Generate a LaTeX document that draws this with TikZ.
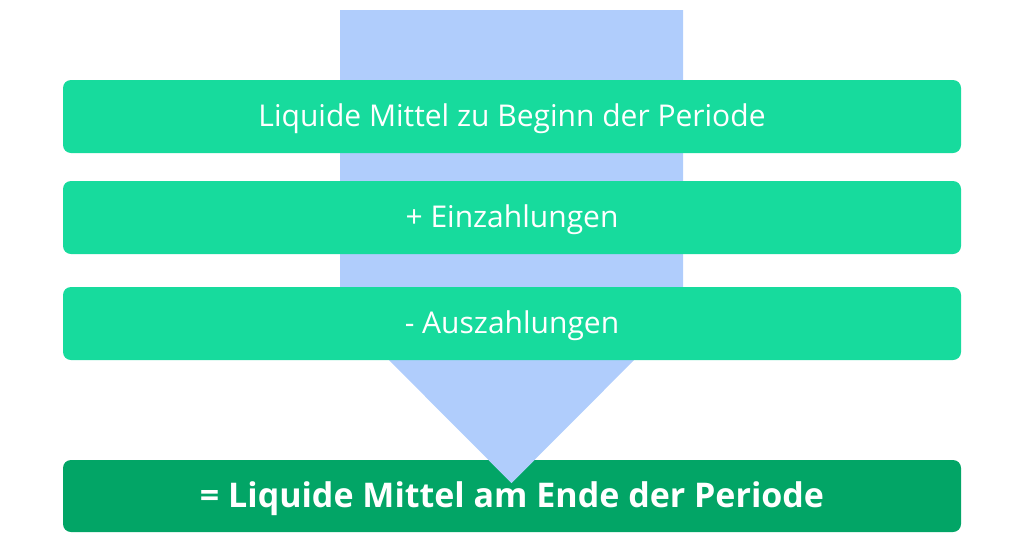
\documentclass[tikz,border=0pt]{standalone}
\usepackage{fontspec}
\setmainfont{Open Sans}
\definecolor{lightgreen}{HTML}{17DB9D}
\definecolor{darkgreen}{HTML}{02A566}
\definecolor{arrowblue}{HTML}{B0CDFC}
\tikzset{
  rowbox/.style={fill=lightgreen, rounded corners=8pt, draw=none},
  endbox/.style={fill=darkgreen, rounded corners=8pt, draw=none},
  rowtext/.style={text=white, font=\fontsize{30}{34}\selectfont},
  endtext/.style={text=white, font=\fontsize{34}{38}\selectfont\bfseries},
}
\begin{document}
\begin{tikzpicture}[x=1pt,y=-1pt]
\useasboundingbox (0,0) rectangle (1024,544);
% arrow
\fill[arrowblue] (340,10) -- (683,10) -- (683,311) -- (511.5,483) -- (340,311) -- cycle;
% boxes
\fill[rowbox] (63,80) rectangle (961,153);
\fill[rowbox] (63,181) rectangle (961,254);
\fill[rowbox] (63,287) rectangle (961,360);
\fill[endbox] (63,460) rectangle (961,532);
\node[rowtext] (t1) at (512,119) {Liquide Mittel zu Beginn der Periode};
\node[rowtext] (t2) at (512,220) {+ Einzahlungen};
\node[rowtext] (t3) at (512,326) {- Auszahlungen};
\node[endtext] (t4) at (512,499) {= Liquide Mittel am Ende der Periode};
% arrow tip over dark box
\fill[arrowblue] (511.5-23,460) -- (511.5+23,460) -- (511.5,483) -- cycle;
\end{tikzpicture}
\end{document}
